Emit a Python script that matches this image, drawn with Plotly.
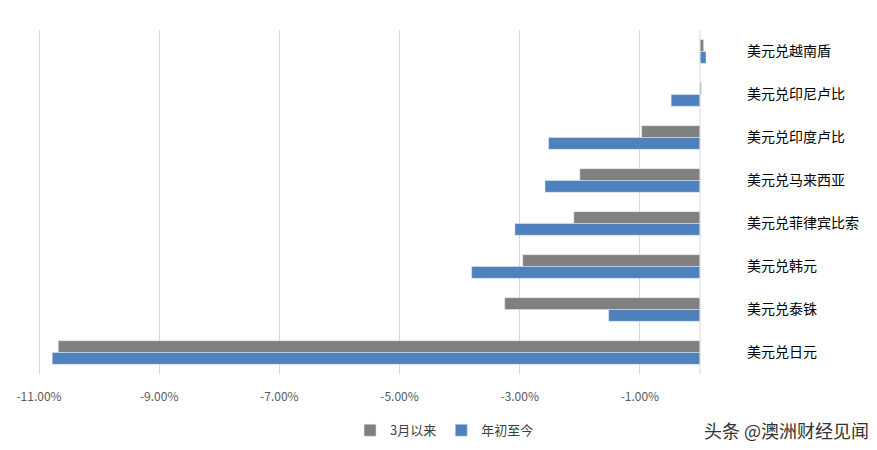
import plotly.graph_objects as go

categories = ["美元兑越南盾", "美元兑印尼卢比", "美元兑印度卢比", "美元兑马来西亚",
              "美元兑菲律宾比索", "美元兑韩元", "美元兑泰铢", "美元兑日元"]
since_march = [0.06, 0.02, -0.97, -2.0, -2.1, -2.95, -3.25, -10.68]
ytd = [0.1, -0.48, -2.52, -2.58, -3.08, -3.8, -1.52, -10.78]
tick_vals = [-11, -9, -7, -5, -3, -1]
tick_text = ["-11.00%", "-9.00%", "-7.00%", "-5.00%", "-3.00%", "-1.00%"]

fig = go.Figure()
fig.add_bar(y=categories, x=since_march, name="3月以来", orientation="h", marker_color="#808080")
fig.add_bar(y=categories, x=ytd, name="年初至今", orientation="h", marker_color="#4f81bd")
fig.update_layout(
    width=877, height=450, barmode="group", bargap=0.45, bargroupgap=0,
    plot_bgcolor="white", paper_bgcolor="white",
    font=dict(family="Noto Sans CJK SC", size=13, color="#404040"),
    margin=dict(l=8, r=179, t=22, b=84),
    xaxis=dict(range=[-11.35, 0.1], tickvals=tick_vals, ticktext=tick_text,
               showgrid=True, gridcolor="#d9d9d9", zeroline=False, ticklabelstandoff=14,
               tickfont=dict(size=12, color="#595959")),
    yaxis=dict(side="right", autorange="reversed", showgrid=False,
               tickfont=dict(size=14, color="#000000"), ticks="", ticklabelstandoff=40,
               showline=False),
    legend=dict(orientation="h", x=0.62, xanchor="center", y=-0.12, yanchor="top",
                font=dict(size=13)),
    shapes=[dict(type="line", xref="x", yref="paper", x0=0, x1=0, y0=0, y1=1,
                 line=dict(color="#d9d9d9", width=1))],
    annotations=[dict(text="头条 @澳洲财经见闻", xref="paper", yref="paper",
                      x=1.24, y=-0.12, xanchor="right", yanchor="top", showarrow=False,
                      font=dict(size=18, color="#333333"))],
)
fig.write_html("out.html")
